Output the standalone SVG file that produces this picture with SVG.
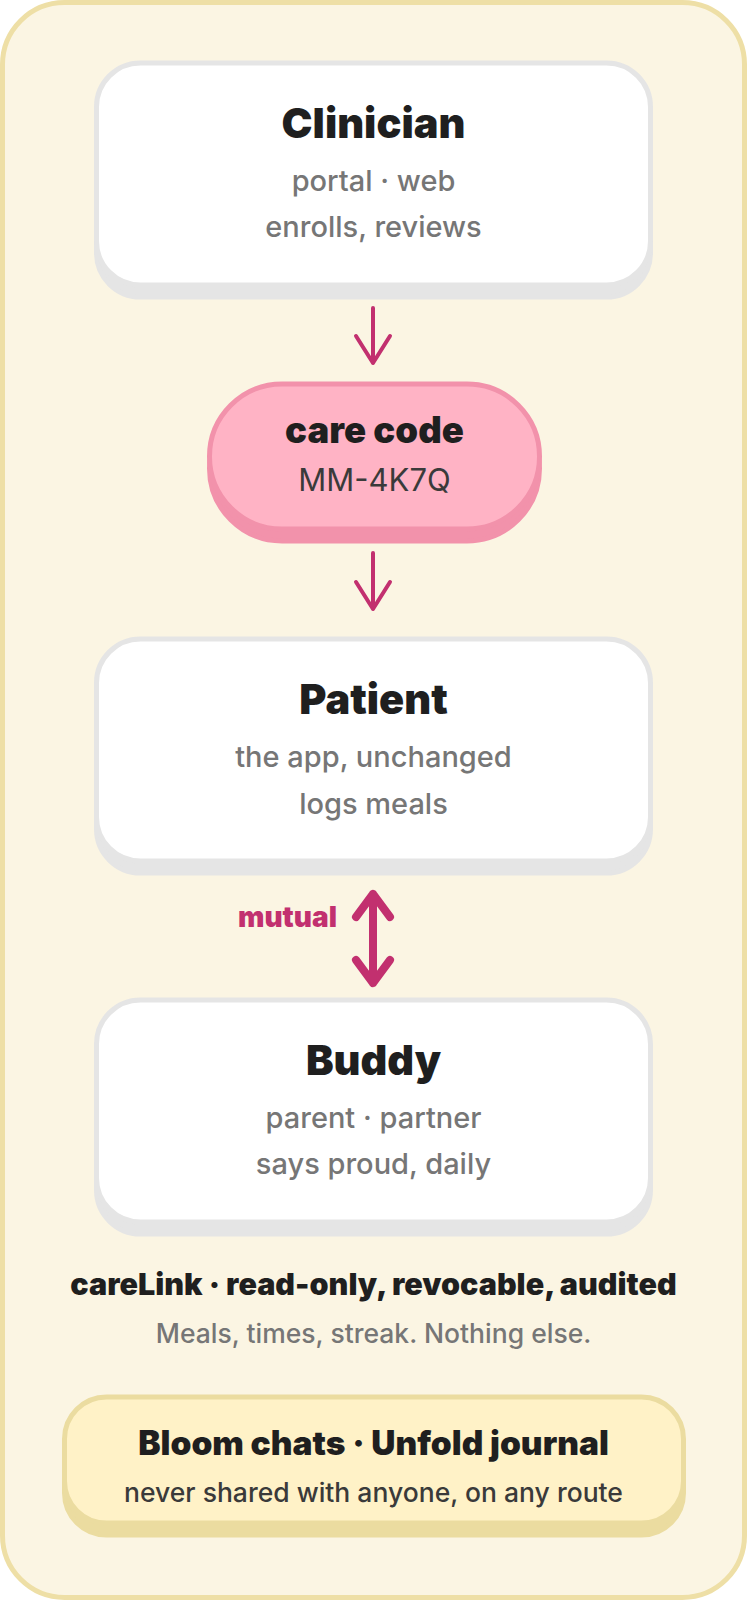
<svg xmlns="http://www.w3.org/2000/svg" width="747" height="1600" viewBox="0 0 747 1600">
  <defs>
    <style>
      .frame { fill: #FBF5E3; stroke: #EEDFA6; stroke-width: 5; }
      .card { fill: #FFFFFF; stroke: #E5E5E5; stroke-width: 5; }
      .cardsh { fill: #E5E5E5; stroke: #E5E5E5; stroke-width: 5; }
      .pill { fill: #FFB3C5; stroke: #F292AB; stroke-width: 5; }
      .pillsh { fill: #F292AB; stroke: #F292AB; stroke-width: 5; }
      .note { fill: #FFF2C7; stroke: #EBDCA0; stroke-width: 5; }
      .notesh { fill: #EBDCA0; stroke: #EBDCA0; stroke-width: 5; }
      text { font-family: Inter, "Noto Sans", "Liberation Sans", sans-serif; text-anchor: middle; }
      .title { font-size: 41.5px; font-weight: 900; fill: #1F1F1F; }
      .ctitle { font-size: 36.5px; font-weight: 900; fill: #1F1F1F; }
      .sub { font-size: 29px; font-weight: 500; fill: #767676; }
      .code { font-size: 31px; font-weight: 400; fill: #3A3A3A; }
      .lbl { font-size: 28px; font-weight: 900; fill: #C2306F; }
      .cl { font-size: 30.5px; font-weight: 900; fill: #1F1F1F; }
      .cls { font-size: 26.5px; font-weight: 500; fill: #767676; }
      .nt { font-size: 33.5px; font-weight: 900; fill: #1F1F1F; }
      .ns { font-size: 26.5px; font-weight: 500; fill: #3A3A3A; }
      .arr { fill: none; stroke: #C2306F; stroke-width: 4; stroke-linecap: round; stroke-linejoin: round; }
      .arr2 { fill: none; stroke: #C2306F; stroke-width: 8; stroke-linecap: round; stroke-linejoin: round; }
    </style>
  </defs>

  <rect class="frame" x="2.5" y="2.5" width="742" height="1595" rx="62"/>

  <g id="clinician">
    <rect class="cardsh" x="96.5" y="75" width="554" height="222" rx="44"/>
    <rect class="card" x="96.5" y="63" width="554" height="222" rx="44"/>
    <text class="title" x="373.5" y="138">Clinician</text>
    <text class="sub" x="373.5" y="191">portal · web</text>
    <text class="sub" x="373.5" y="237">enrolls, reviews</text>
  </g>

  <g id="care-code">
    <rect class="pillsh" x="209.5" y="396" width="330" height="145" rx="72.5"/>
    <rect class="pill" x="209.5" y="384" width="330" height="145" rx="72.5"/>
    <text class="ctitle" x="374.5" y="443">care code</text>
    <text class="code" x="374.5" y="491">MM-4K7Q</text>
  </g>

  <g id="patient">
    <rect class="cardsh" x="96.5" y="651" width="554" height="222" rx="44"/>
    <rect class="card" x="96.5" y="639" width="554" height="222" rx="44"/>
    <text class="title" x="373.5" y="714">Patient</text>
    <text class="sub" x="373.5" y="767">the app, unchanged</text>
    <text class="sub" x="373.5" y="814">logs meals</text>
  </g>

  <g id="buddy">
    <rect class="cardsh" x="96.5" y="1012" width="554" height="222" rx="44"/>
    <rect class="card" x="96.5" y="1000" width="554" height="222" rx="44"/>
    <text class="title" x="373.5" y="1075">Buddy</text>
    <text class="sub" x="373.5" y="1128">parent · partner</text>
    <text class="sub" x="373.5" y="1174">says proud, daily</text>
  </g>

  <g id="carelink">
    <text class="cl" x="373.5" y="1295">careLink · read-only, revocable, audited</text>
    <text class="cls" x="373.5" y="1343">Meals, times, streak. Nothing else.</text>
  </g>

  <g id="private">
    <rect class="notesh" x="64.5" y="1409" width="619" height="126" rx="42"/>
    <rect class="note" x="64.5" y="1397" width="619" height="126" rx="42"/>
    <text class="nt" x="373.5" y="1455">Bloom chats · Unfold journal</text>
    <text class="ns" x="373.5" y="1502">never shared with anyone, on any route</text>
  </g>

  <g id="connectors">
    <path class="arr" d="M373 308 V363 M356 336 L373 363 L390 336"/>
    <path class="arr" d="M373 553 V609 M356 582 L373 609 L390 582"/>
    <path class="arr2" d="M373 894 V983 M356 917 L373 894 L390 917 M356 960 L373 983 L390 960"/>
    <text class="lbl" x="287.5" y="927">mutual</text>
  </g>
</svg>
